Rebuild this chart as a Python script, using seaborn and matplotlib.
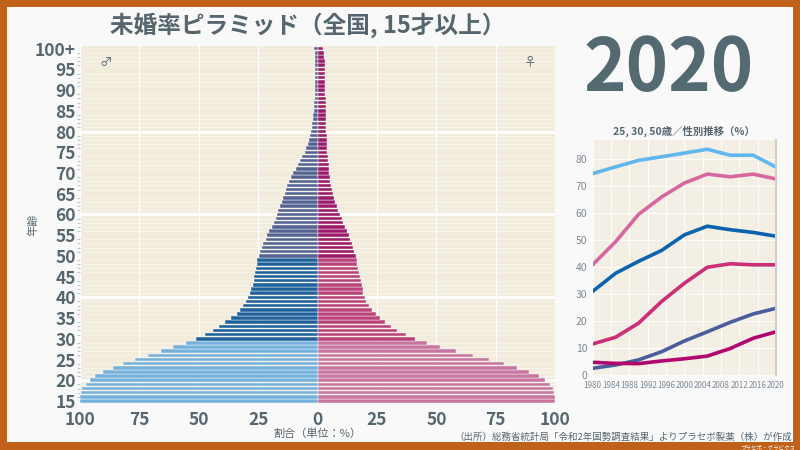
import numpy as np
import pandas as pd
import matplotlib.pyplot as plt
import seaborn as sns
from matplotlib.patches import Rectangle

# === DATA ===
ages = list(range(15, 101))  # 100 = "100+"

male_rate = [
    100.0, 99.9, 99.7, 99.0, 97.6, 95.9, 93.7, 90.5, 86.0, 81.8,   # 15-24
    76.9, 71.5, 65.9, 60.7, 55.5, 51.2, 47.5, 44.0, 41.4, 38.8,    # 25-34
    36.3, 34.1, 32.7, 31.3, 30.2, 29.2, 28.5, 27.9, 27.3, 26.9,    # 35-44
    26.6, 26.2, 25.9, 25.7, 25.4, 24.8, 24.3, 23.6, 22.9, 21.9,    # 45-54
    21.2, 20.4, 19.3, 18.5, 17.6, 17.1, 16.5, 15.8, 15.1, 14.6,    # 55-64
    13.9, 13.4, 12.7, 12.0, 11.1, 10.4, 9.2, 8.4, 7.6, 6.4,        # 65-74
    5.5, 4.7, 4.1, 3.5, 3.1, 2.8, 2.5, 2.2, 2.0, 1.8,              # 75-84
    1.6, 1.5, 1.4, 1.3, 1.2, 1.2, 1.1, 1.1, 1.1, 1.1,              # 85-94
    1.1, 1.1, 1.2, 1.2, 1.3, 1.7,                                  # 95-100+
]
female_rate = [
    100.0, 99.9, 99.6, 99.0, 97.9, 95.8, 93.0, 88.9, 84.0, 78.6,
    72.3, 65.3, 58.2, 51.6, 46.0, 40.9, 37.1, 33.6, 30.8, 28.4,
    26.3, 24.5, 22.8, 21.5, 20.5, 19.8, 19.3, 18.9, 18.6, 18.2,
    17.7, 17.4, 17.2, 16.7, 16.5, 16.0, 15.3, 14.9, 14.5, 13.5,
    13.1, 12.2, 11.7, 10.8, 10.1, 9.3, 8.7, 8.0, 7.5, 7.0,
    6.6, 6.2, 5.8, 5.3, 5.1, 4.9, 4.8, 4.6, 4.5, 4.4,
    4.1, 4.0, 3.9, 3.8, 3.8, 3.7, 3.6, 3.6, 3.5, 3.5,
    3.4, 3.4, 3.4, 3.4, 3.3, 3.3, 3.3, 3.3, 3.2, 3.2,
    3.2, 3.1, 3.0, 2.8, 2.7, 2.2,
]

years = [1980, 1985, 1990, 1995, 2000, 2005, 2010, 2015, 2020]
male_25 = [74.6, 77.1, 79.5, 80.8, 82.2, 83.6, 81.4, 81.4, 77.0]
female_25 = [40.9, 49.4, 59.5, 65.9, 71.1, 74.4, 73.4, 74.4, 72.6]
male_30 = [31.0, 37.7, 42.1, 46.1, 51.9, 55.1, 53.8, 52.8, 51.4]
female_30 = [11.5, 14.0, 19.2, 27.2, 34.0, 39.9, 41.2, 40.8, 40.8]
male_50 = [2.5, 3.7, 5.6, 8.6, 12.6, 16.0, 19.5, 22.6, 24.7]
female_50 = [4.7, 4.3, 4.2, 5.2, 6.0, 7.0, 9.8, 13.6, 16.0]

# === COLOURS ===
colors = {
    "m_young": "#62b6ee", "m_mid": "#0b63ae", "m_old": "#4a5d9c",
    "f_young": "#d6679f", "f_mid": "#cd2f77", "f_old": "#b0066e",
}
text_col = "#56666e"
bg_col = "#f2ecdc"


def band(age):
    if age < 30:
        return "young"
    if age < 50:
        return "mid"
    return "old"


rows = []
for a, m, f in zip(ages, male_rate, female_rate):
    rows.append({"age": a, "value": -m, "group": "m_" + band(a)})
    rows.append({"age": a, "value": f, "group": "f_" + band(a)})
pyr = pd.DataFrame(rows)

trend = pd.concat([
    pd.DataFrame({"year": years, "rate": male_25, "series": "m_young"}),
    pd.DataFrame({"year": years, "rate": female_25, "series": "f_young"}),
    pd.DataFrame({"year": years, "rate": male_30, "series": "m_mid"}),
    pd.DataFrame({"year": years, "rate": female_30, "series": "f_mid"}),
    pd.DataFrame({"year": years, "rate": male_50, "series": "m_old"}),
    pd.DataFrame({"year": years, "rate": female_50, "series": "f_old"}),
])

# === STYLE ===
sns.set_theme(style="white")
plt.rcParams["font.family"] = ["Noto Sans CJK JP", "DejaVu Sans"]

fig = plt.figure(figsize=(8, 4.5), dpi=100)
fig.patch.set_facecolor("#bf6119")
fig.patches.append(Rectangle((7 / 800, 8 / 450), 786 / 800, 435 / 450,
                             transform=fig.transFigure, facecolor="#f9f9f9",
                             edgecolor="none", zorder=-10))

# === PYRAMID ===
ax = fig.add_axes([0.1, 0.1044, 0.594, 0.793])
ax.set_facecolor(bg_col)
sns.barplot(data=pyr, x="value", y="age", hue="group", palette=colors,
            orient="y", native_scale=True, dodge=False, width=0.84,
            legend=False, edgecolor="white", linewidth=0.3, ax=ax, zorder=3)

ax.set_xlim(-100, 100)
ax.set_ylim(14.5, 100.6)
ax.set_xticks(np.arange(-100, 101, 25))
ax.set_xticklabels([str(abs(v)) for v in range(-100, 101, 25)])
yt = list(range(15, 101, 5))
ax.set_yticks(yt)
ax.set_yticklabels([str(v) if v < 100 else "100+" for v in yt])
ax.set_yticks(ages, minor=True)
ax.tick_params(axis="y", which="major", labelsize=12.5, colors=text_col,
               length=0, pad=3)
ax.tick_params(axis="x", which="major", labelsize=12.5, colors=text_col,
               length=0, pad=5.5)
ax.tick_params(axis="y", which="minor", length=2, width=0.6, color="#b8b8b8", left=True)
for lbl in ax.get_xticklabels() + ax.get_yticklabels():
    lbl.set_fontweight("bold")
ax.set_axisbelow(True)
ax.grid(axis="x", color="white", linewidth=0.8)
ax.grid(axis="y", which="minor", color="white", linewidth=0.5, alpha=0.6)
ax.hlines([20, 40, 60, 80], -100, 100, colors="white", linewidth=2, zorder=1)
for s in ax.spines.values():
    s.set_visible(False)
ax.set_xlabel("割合（単位：%）", fontsize=8, color=text_col, labelpad=0)
ax.set_ylabel("年齢", fontsize=8, color=text_col)
ax.yaxis.set_label_coords(-0.088, 0.5)
ax.text(0.055, 0.955, "♂", transform=ax.transAxes, fontsize=9, color=text_col,
        ha="center", va="center")
ax.text(0.948, 0.955, "♀", transform=ax.transAxes, fontsize=9, color=text_col,
        ha="center", va="center")

fig.text(308 / 800, 1 - 25 / 450, "未婚率ピラミッド（全国, 15才以上）", fontsize=17,
         fontweight="bold", color=text_col, ha="center", va="center")

# === BIG YEAR ===
fig.text(669 / 800, 1 - 70 / 450, "2020", fontsize=52, fontweight="bold",
         color="#546a72", ha="center", va="center")

# === TREND INSET ===
ax2 = fig.add_axes([0.741, 0.1667, 0.229, 0.522])
ax2.set_facecolor("#f3efe4")
sns.lineplot(data=trend, x="year", y="rate", hue="series", palette=colors,
             linewidth=2.6, legend=False, ax=ax2)
ax2.set_xlim(1980, 2020)
ax2.set_ylim(0, 87)
ax2.set_xticks(range(1980, 2021, 4))
ax2.set_yticks(range(0, 81, 10))
ax2.tick_params(axis="x", labelsize=5.8, colors="#7d8a96", length=2, pad=2)
ax2.tick_params(axis="y", labelsize=7.5, colors="#7d8a96", length=0, pad=4)
ax2.grid(color="white", linewidth=0.6)
ax2.set_xlabel("")
ax2.set_ylabel("")
for s in ["top", "left", "bottom"]:
    ax2.spines[s].set_visible(False)
ax2.spines["right"].set_color("#d3cfc4")
ax2.spines["right"].set_linewidth(1.5)
ax2.set_title("25, 30, 50歳／性別推移（%）", fontsize=7.5, fontweight="bold",
              color=text_col, pad=4)

# === FOOTER ===
fig.text(792 / 800, 1 - 437 / 450,
         "（出所）総務省統計局「令和2年国勢調査結果」よりプラセボ製薬（株）が作成",
         fontsize=6.8, color=text_col, ha="right", va="center")
fig.text(795 / 800, 1 - 447 / 450, "プラセボ・グラビクス", fontsize=4,
         color="white", ha="right", va="center")

fig.savefig("out.png", dpi=100, facecolor=fig.get_facecolor())
